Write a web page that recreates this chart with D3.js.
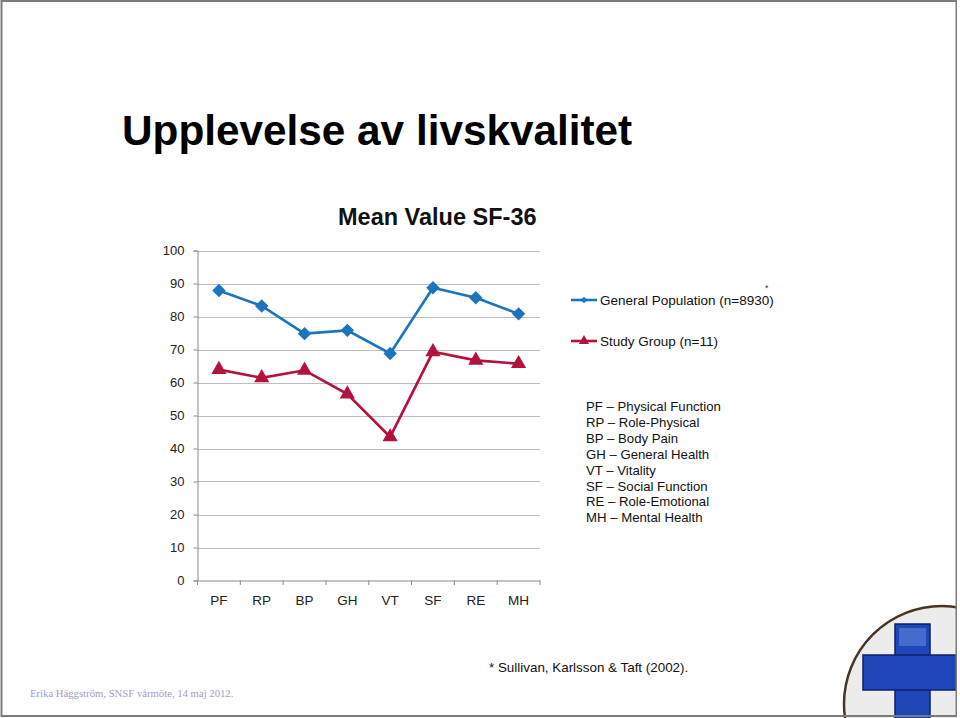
<!DOCTYPE html>
<html><head><meta charset="utf-8">
<script src="https://cdn.jsdelivr.net/npm/d3@7"></script>
<style>html,body{margin:0;padding:0;background:#fff;overflow:hidden}</style>
</head><body>
<svg id="c" width="960" height="718"></svg>
<script>
const categories = ["PF","RP","BP","GH","VT","SF","RE","MH"];
const generalPopulation = [87.9, 83.2, 74.8, 75.8, 68.8, 88.7, 85.7, 80.8];
const studyGroup = [63.9, 61.4, 63.7, 56.5, 43.5, 69.3, 66.7, 65.7];
const yTicks = [0,10,20,30,40,50,60,70,80,90,100];
const seriesNames = ["General Population (n=8930)", "Study Group (n=11)"];
const abbreviations = ["PF \u2013 Physical Function","RP \u2013 Role-Physical","BP \u2013 Body Pain","GH \u2013 General Health","VT \u2013 Vitality","SF \u2013 Social Function","RE \u2013 Role-Emotional","MH \u2013 Mental Health"];

const svg = d3.select("#c");
const blue = "#1b74bc", red = "#b3123d";

// logo (bottom right)
const logo = svg.append("g");
logo.append("circle").attr("cx",942).attr("cy",704).attr("r",98)
  .attr("fill","#ececec").attr("stroke","#4a3524").attr("stroke-width",2.5);
logo.append("rect").attr("x",895).attr("y",624).attr("width",35).attr("height",100).attr("fill","#1f46b8").attr("stroke","#0c1f6e").attr("stroke-width",1.5);
logo.append("rect").attr("x",863).attr("y",655).attr("width",100).attr("height",35).attr("fill","#1f46b8").attr("stroke","#0c1f6e").attr("stroke-width",1.5);
logo.append("rect").attr("x",896).attr("y",656).attr("width",33).attr("height",33).attr("fill","#1f46b8");
logo.append("rect").attr("x",899).attr("y",628).attr("width",27).attr("height",18).attr("fill","#5f86d8").attr("opacity",0.6);

// slide border
svg.append("rect").attr("x",1.5).attr("y",1).attr("width",955).attr("height",715)
  .attr("fill","none").attr("stroke","#7a7a7a").attr("stroke-width",2);
svg.append("rect").attr("x",957).attr("y",0).attr("width",3).attr("height",718).attr("fill","#fff");

// title
svg.append("text").attr("x",122).attr("y",145).text("Upplevelse av livskvalitet")
  .attr("font-family","Liberation Sans, Arial, sans-serif").attr("font-weight","bold")
  .attr("font-size",42.3).attr("fill","#000");

// chart title
svg.append("text").attr("x",338).attr("y",225).text("Mean Value SF-36")
  .attr("font-family","Liberation Sans, Arial, sans-serif").attr("font-weight","bold")
  .attr("font-size",23.5).attr("fill","#111");

const x = d3.scaleBand().domain(categories).range([197.5,540]);
const y = d3.scaleLinear().domain([0,100]).range([580.5,250.5]);

const g = svg.append("g");
// gridlines
g.selectAll(".grid").data(yTicks.filter(d=>d>0)).join("line")
  .attr("x1",197.5).attr("x2",540).attr("y1",d=>Math.round(y(d))+0.5).attr("y2",d=>Math.round(y(d))+0.5)
  .attr("stroke","#bdbdbd").attr("stroke-width",1);

// y axis
const yAx = g.append("g").attr("transform","translate(197.5,0)")
  .call(d3.axisLeft(y).tickValues(yTicks).tickSize(4).tickPadding(9));
yAx.select(".domain").attr("stroke","#8a8a8a");
yAx.selectAll(".tick line").attr("stroke","#8a8a8a");
yAx.selectAll("text").attr("font-family","Liberation Sans, Arial, sans-serif").attr("font-size",13).attr("fill","#222");

// x axis
const xAx = g.append("g").attr("transform","translate(0,580.5)")
  .call(d3.axisBottom(x).tickSize(0).tickPadding(15));
xAx.select(".domain").attr("stroke","#8a8a8a");
xAx.selectAll("text").attr("font-family","Liberation Sans, Arial, sans-serif").attr("font-size",13.5).attr("fill","#222");
g.selectAll(".xt").data(categories.concat(["end"])).join("line")
  .attr("x1",(d,i)=>197.5+i*x.bandwidth()).attr("x2",(d,i)=>197.5+i*x.bandwidth())
  .attr("y1",580.5).attr("y2",585).attr("stroke","#8a8a8a");

const cx = c => x(c)+x.bandwidth()/2;
const line = d3.line().x((d,i)=>cx(categories[i])).y(d=>y(d));

function drawSeries(vals,color,shape){
  g.append("path").datum(vals).attr("d",line).attr("fill","none").attr("stroke",color).attr("stroke-width",2.6);
  const sym = d3.symbol().type(shape).size(shape===d3.symbolTriangle?100:90);
  g.selectAll(null).data(vals).join("path")
    .attr("transform",(d,i)=>`translate(${cx(categories[i])},${y(d)})${shape===d3.symbolSquare?" rotate(45)":""}`)
    .attr("d",sym).attr("fill",color);
}
drawSeries(generalPopulation,blue,d3.symbolSquare);
drawSeries(studyGroup,red,d3.symbolTriangle);

// legend
const leg = [{n:seriesNames[0],c:blue,s:d3.symbolSquare,y:300},{n:seriesNames[1],c:red,s:d3.symbolTriangle,y:341}];
leg.forEach(l=>{
  svg.append("line").attr("x1",571).attr("x2",597).attr("y1",l.y).attr("y2",l.y).attr("stroke",l.c).attr("stroke-width",2.6);
  svg.append("path").attr("d",d3.symbol().type(l.s).size(l.s===d3.symbolTriangle?45:22))
    .attr("transform",`translate(584,${l.y})${l.s===d3.symbolSquare?" rotate(45)":""}`).attr("fill",l.c);
  svg.append("text").attr("x",600).attr("y",l.y+5).text(l.n)
    .attr("font-family","Liberation Sans, Arial, sans-serif").attr("font-size",13.5).attr("fill","#111");
});
svg.append("text").attr("x",765).attr("y",291).text("*").attr("font-family","Liberation Sans, Arial, sans-serif").attr("font-size",9).attr("fill","#333");

// abbreviations
svg.append("g").selectAll("text").data(abbreviations).join("text")
  .attr("x",586).attr("y",(d,i)=>411+i*15.9).text(d=>d)
  .attr("font-family","Liberation Sans, Arial, sans-serif").attr("font-size",13.2).attr("fill","#111");

// reference
svg.append("text").attr("x",489).attr("y",672).text("* Sullivan, Karlsson & Taft (2002).")
  .attr("font-family","Liberation Sans, Arial, sans-serif").attr("font-size",13.4).attr("fill","#111");

// footer
svg.append("text").attr("x",30).attr("y",697).text("Erika H\u00e4ggstr\u00f6m, SNSF v\u00e5rm\u00f6te, 14 maj 2012.")
  .attr("font-family","Liberation Serif, Times New Roman, serif").attr("font-size",10.7).attr("fill","#9f9cc6");
</script>
</body></html>
